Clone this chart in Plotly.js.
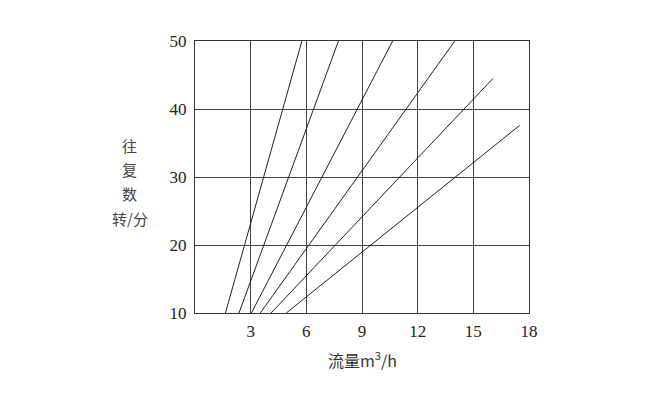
<!DOCTYPE html>
<html>
<head>
<meta charset="utf-8">
<script src="https://cdn.plot.ly/plotly-3.0.1.min.js"></script>
<style>html,body{margin:0;padding:0;background:#fff;}#chart{width:652px;height:414px;}</style>
</head>
<body>
<div id="chart"></div>
<script>
// Flow (m3/h) at start and end of each curve
const flowStart = [1.64, 2.37, 3.04, 3.52, 4.10, 4.92];
const flowEnd   = [5.76, 7.73, 10.65, 14.0, 16.06, 17.5];
// Strokes per minute at start and end of each curve
const strokeStart = [10, 10, 10, 10, 10, 10];
const strokeEnd   = [50, 50, 50, 50, 44.5, 37.6];
const xTicks = [3, 6, 9, 12, 15, 18];
const yTicks = [10, 20, 30, 40, 50];
const yTitleChars = ['往', '复', '数', '转/分'];

const traces = flowStart.map((x0, i) => ({
  type: 'scatter', mode: 'lines',
  x: [x0, flowEnd[i]], y: [strokeStart[i], strokeEnd[i]],
  line: {color: '#222', width: 1},
  hoverinfo: 'skip', showlegend: false
}));

const yTitlePos = [0.617, 0.529, 0.44, 0.349];
const annotations = yTitleChars.map((t, i) => ({
  text: t, xref: 'paper', yref: 'paper', x: -0.196, y: yTitlePos[i],
  showarrow: false, xanchor: 'center', yanchor: 'middle',
  font: {family: '"Noto Sans CJK SC", sans-serif', size: 15, color: '#444'}
}));
annotations.push({
  text: '流量m<sup>3</sup>/h', xref: 'paper', yref: 'paper', x: 0.5, y: -0.17,
  showarrow: false, xanchor: 'center', yanchor: 'middle',
  font: {family: '"Noto Sans CJK SC", sans-serif', size: 16, color: '#333'}
});

const layout = {
  width: 652, height: 414,
  margin: {l: 194.5, r: 122.7, t: 41, b: 101.3},
  paper_bgcolor: '#fff', plot_bgcolor: '#fff',
  font: {family: '"Liberation Serif", serif', size: 17, color: '#222'},
  xaxis: {
    range: [0, 18], tickvals: xTicks, ticktext: xTicks.map(String),
    showgrid: true, gridcolor: '#444', gridwidth: 1,
    showline: true, linecolor: '#333', linewidth: 1, mirror: true,
    zeroline: false, ticks: '', ticklabelstandoff: 3
  },
  yaxis: {
    range: [10, 50], tickvals: yTicks, ticktext: yTicks.map(String),
    showgrid: true, gridcolor: '#444', gridwidth: 1,
    showline: true, linecolor: '#333', linewidth: 1, mirror: true,
    zeroline: false, ticks: '', ticklabelstandoff: 4
  },
  annotations: annotations
};

Plotly.newPlot('chart', traces, layout, {staticPlot: true, displayModeBar: false});
</script>
</body>
</html>
